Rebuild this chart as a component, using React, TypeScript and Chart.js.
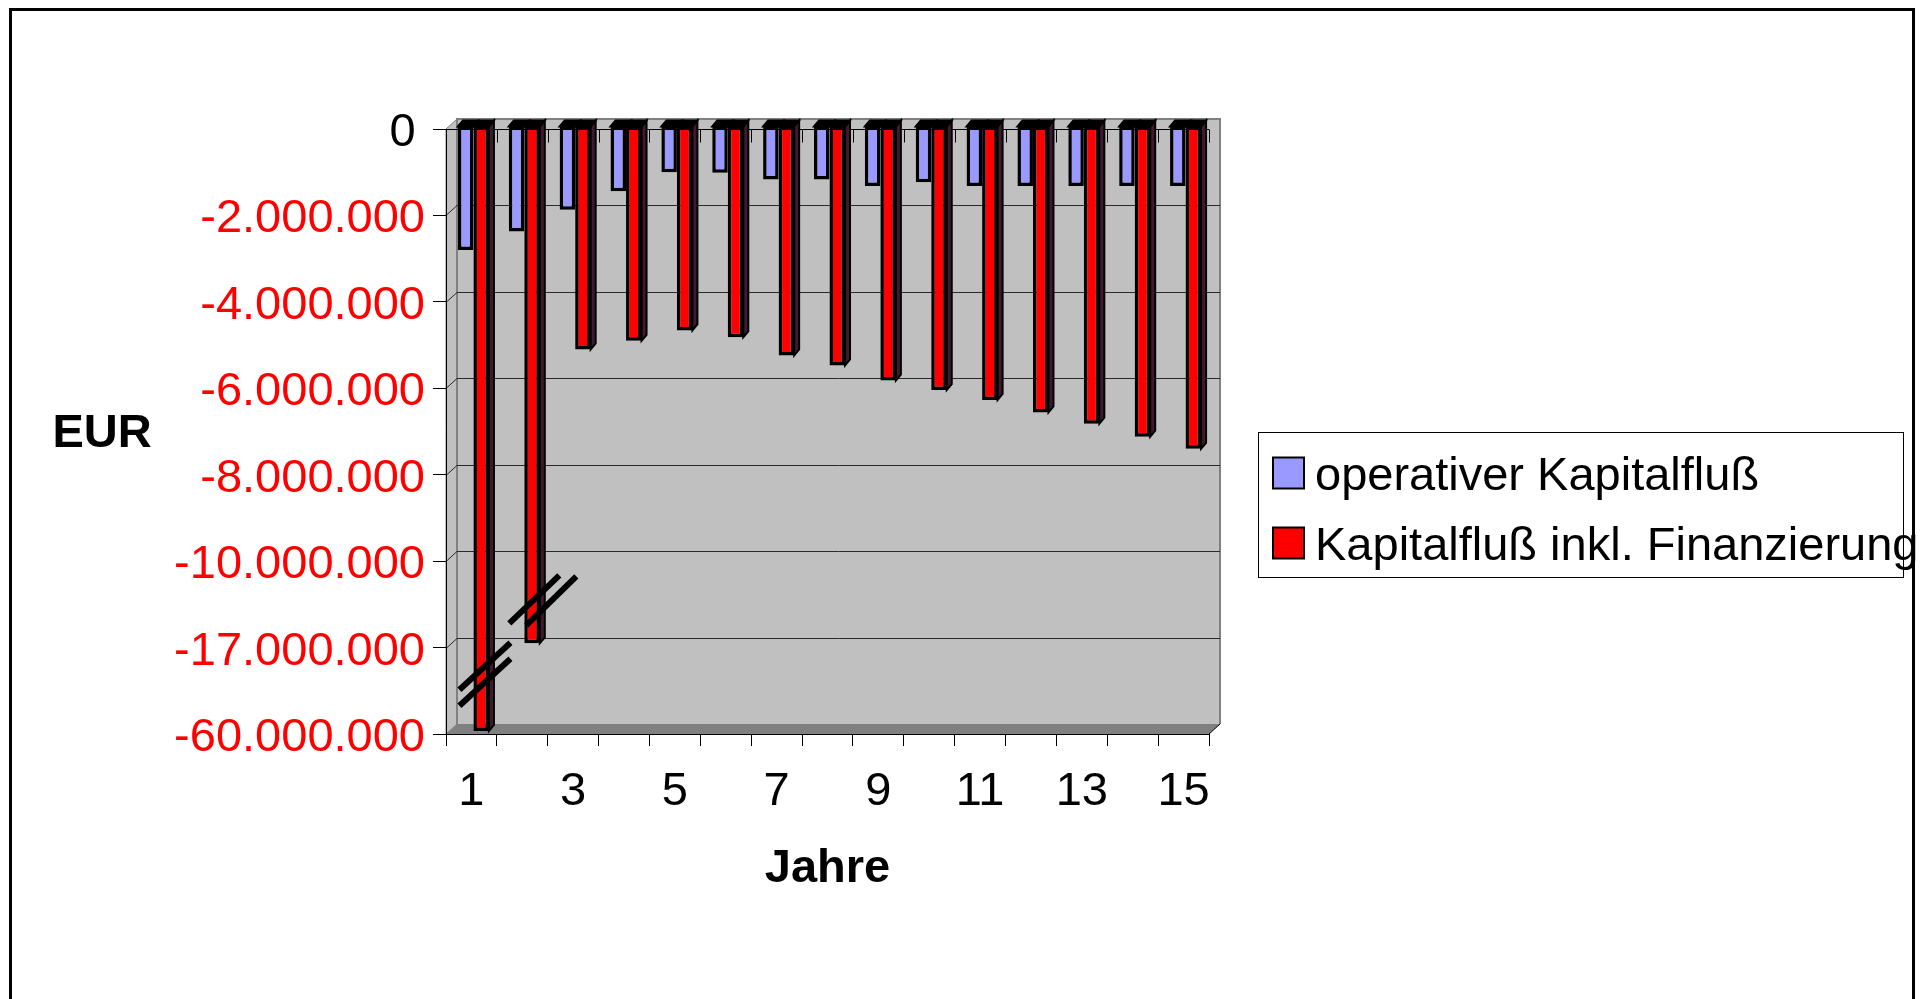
import React, { useEffect, useRef } from "react";
import { Chart, registerables } from "chart.js";

Chart.register(...registerables);

const FONT = '"Liberation Sans", Arial, Helvetica, sans-serif';
const FS = 47;

// ---------- data ----------
const years = ["1", "2", "3", "4", "5", "6", "7", "8", "9", "10", "11", "12", "13", "14", "15"];
const operativerKapitalfluss = [
  -2870000, -2440000, -1940000, -1510000, -1070000, -1080000, -1240000, -1240000,
  -1390000, -1300000, -1390000, -1390000, -1390000, -1390000, -1390000,
];
const kapitalflussInklFinanzierung = [
  -60000000, -16900000, -5170000, -4970000, -4730000, -4890000, -5310000, -5540000,
  -5890000, -6110000, -6340000, -6630000, -6890000, -7190000, -7470000,
];
// broken value axis: equally spaced ticks
const yTickValues = [0, -2000000, -4000000, -6000000, -8000000, -10000000, -17000000, -60000000];
const yTickLabels = ["0", "-2.000.000", "-4.000.000", "-6.000.000", "-8.000.000", "-10.000.000", "-17.000.000", "-60.000.000"];
const seriesNames = ["operativer Kapitalfluß", "Kapitalfluß inkl. Finanzierung"];
const seriesColors = ["#9999ff", "#ff0000"];
const xTitle = "Jahre";
const yTitle = "EUR";

// map EUR value onto the broken axis (one unit per tick interval)
function toAxisUnits(v: number): number {
  for (let i = 0; i < yTickValues.length - 1; i++) {
    const hi = yTickValues[i];
    const lo = yTickValues[i + 1];
    if (v >= lo) return -(i + (hi - v) / (hi - lo));
  }
  return -(yTickValues.length - 1);
}

// ---------- 3D look ----------
const DX = 11;
const DY = -10;
const BAR_SX = 2;
const BAR_SY = -3;
const BDX = 5;
const BDY = -6;

function poly(ctx: CanvasRenderingContext2D, pts: number[][], fill?: string | null, stroke?: string | null, lw = 1) {
  ctx.beginPath();
  ctx.moveTo(pts[0][0], pts[0][1]);
  for (let i = 1; i < pts.length; i++) ctx.lineTo(pts[i][0], pts[i][1]);
  ctx.closePath();
  if (fill) {
    ctx.fillStyle = fill;
    ctx.fill();
  }
  if (stroke) {
    ctx.strokeStyle = stroke;
    ctx.lineWidth = lw;
    ctx.stroke();
  }
}

const breakMarks = [
  { cat: 0, unit: -6.5, lines: [[-12, -1, 39, -48], [-12, 15, 39, -32]] },
  { cat: 1, unit: -5.5, lines: [[-13, 19, 37, -29], [4, 21, 54, -28]] },
];

const excel3d = {
  id: "excel3d",
  beforeDraw(chart: any) {
    const ctx: CanvasRenderingContext2D = chart.ctx;
    const { left, right, top, bottom } = chart.chartArea;
    const ys = chart.scales.y;
    ctx.save();
    // outer frame
    ctx.strokeStyle = "#000";
    ctx.lineWidth = 3;
    ctx.beginPath();
    ctx.moveTo(10.5, chart.height + 5);
    ctx.lineTo(10.5, 9.5);
    ctx.lineTo(1913.5, 9.5);
    ctx.lineTo(1913.5, chart.height + 5);
    ctx.stroke();
    // back wall
    ctx.fillStyle = "#c0c0c0";
    ctx.fillRect(left + DX, top + DY, right - left, bottom - top);
    // side wall
    poly(ctx, [[left, top], [left + DX, top + DY], [left + DX, bottom + DY], [left, bottom]], "#c0c0c0", "#808080", 1);
    // floor
    poly(ctx, [[left, bottom], [left + DX, bottom + DY], [right + DX, bottom + DY], [right, bottom]], "#808080", null);
    // wall edges
    ctx.strokeStyle = "#808080";
    ctx.lineWidth = 2;
    ctx.beginPath();
    ctx.moveTo(left + DX, bottom + DY);
    ctx.lineTo(left + DX, top + DY);
    ctx.lineTo(right + DX, top + DY);
    ctx.lineTo(right + DX, bottom + DY);
    ctx.stroke();
    // gridlines on side + back wall
    ctx.strokeStyle = "#2a2a2a";
    ctx.lineWidth = 1;
    ys.ticks.forEach((t: any) => {
      if (t.value === 0 || t.value <= ys.min) return;
      const p = Math.round(ys.getPixelForValue(t.value)) + 0.5;
      ctx.beginPath();
      ctx.moveTo(left, p);
      ctx.lineTo(left + DX, p + DY);
      ctx.lineTo(right + DX, p + DY);
      ctx.stroke();
    });
    // floor right edge
    ctx.strokeStyle = "#000";
    ctx.beginPath();
    ctx.moveTo(right, bottom);
    ctx.lineTo(right + DX, bottom + DY);
    ctx.stroke();
    ctx.restore();
  },
  beforeDatasetsDraw(chart: any) {
    const ctx: CanvasRenderingContext2D = chart.ctx;
    const { left, right } = chart.chartArea;
    const xs = chart.scales.x;
    const ys = chart.scales.y;
    const y0 = Math.round(ys.getPixelForValue(0)) + 0.5;
    ctx.save();
    ctx.strokeStyle = "#000";
    ctx.lineWidth = 1;
    ctx.beginPath();
    ctx.moveTo(left, y0);
    ctx.lineTo(right, y0);
    ctx.stroke();
    const cw = xs.getPixelForValue(1) - xs.getPixelForValue(0);
    for (let i = 0; i <= years.length; i++) {
      const bx = Math.round(xs.getPixelForValue(i) - cw / 2) + 0.5;
      ctx.beginPath();
      ctx.moveTo(bx, y0);
      ctx.lineTo(bx, y0 + 13);
      ctx.stroke();
    }
    ctx.restore();
  },
  beforeDatasetDraw(chart: any) {
    chart.ctx.save();
    chart.ctx.translate(BAR_SX, BAR_SY);
  },
  afterDatasetDraw(chart: any) {
    chart.ctx.restore();
  },
  afterDatasetsDraw(chart: any) {
    const ctx: CanvasRenderingContext2D = chart.ctx;
    const xs = chart.scales.x;
    const ys = chart.scales.y;
    ctx.save();
    ctx.translate(BAR_SX, BAR_SY);
    chart.data.datasets.forEach((ds: any, di: number) => {
      const meta = chart.getDatasetMeta(di);
      meta.data.forEach((el: any) => {
        const l = el.x - el.width / 2;
        const r = el.x + el.width / 2;
        const t = Math.min(el.y, el.base);
        const b = Math.max(el.y, el.base);
        if (di === chart.data.datasets.length - 1) {
          poly(ctx, [[r, t], [r + BDX, t + BDY], [r + BDX, b + BDY], [r, b]], "#3f1a2e", "#000", 2);
        }
        poly(ctx, [[l, t], [l + BDX, t + BDY], [r + BDX, t + BDY], [r, t]], "#000", "#000", 2);
      });
    });
    ctx.restore();

    // axis break marks
    ctx.save();
    ctx.strokeStyle = "#000";
    ctx.lineWidth = 6;
    ctx.lineCap = "butt";
    breakMarks.forEach((bm) => {
      const cx = xs.getPixelForValue(bm.cat);
      const cy = ys.getPixelForValue(bm.unit);
      bm.lines.forEach((ln) => {
        ctx.beginPath();
        ctx.moveTo(cx + ln[0], cy + ln[1]);
        ctx.lineTo(cx + ln[2], cy + ln[3]);
        ctx.stroke();
      });
    });
    ctx.restore();

    // value axis title (horizontal)
    ctx.save();
    ctx.fillStyle = "#000";
    ctx.font = `bold ${FS}px ${FONT}`;
    ctx.textAlign = "center";
    ctx.textBaseline = "middle";
    ctx.fillText(yTitle, 102, 434);
    ctx.restore();

    // legend
    ctx.save();
    ctx.strokeStyle = "#000";
    ctx.lineWidth = 1;
    ctx.strokeRect(1258.5, 432.5, 645, 145);
    ctx.font = `${FS}px ${FONT}`;
    ctx.textAlign = "left";
    ctx.textBaseline = "middle";
    chart.data.datasets.forEach((ds: any, i: number) => {
      const cy = 473 + i * 70;
      ctx.fillStyle = ds.backgroundColor;
      ctx.fillRect(1273, cy - 15.5, 31, 31);
      ctx.lineWidth = 2;
      ctx.strokeStyle = "#000";
      ctx.strokeRect(1273, cy - 15.5, 31, 31);
      ctx.fillStyle = "#000";
      ctx.fillText(ds.label, 1315, cy + 4);
    });
    ctx.restore();
  },
};

export default function App() {
  const ref = useRef<HTMLCanvasElement | null>(null);

  useEffect(() => {
    if (!ref.current) return;
    Chart.defaults.font.family = FONT;
    const chart = new Chart(ref.current, {
      type: "bar",
      data: {
        labels: years,
        datasets: [
          {
            label: seriesNames[0],
            data: operativerKapitalfluss.map(toAxisUnits),
            backgroundColor: seriesColors[0],
            borderColor: "#000",
            borderWidth: 3.5,
            borderSkipped: false,
            categoryPercentage: 0.61,
            barPercentage: 1,
          },
          {
            label: seriesNames[1],
            data: kapitalflussInklFinanzierung.map(toAxisUnits),
            backgroundColor: seriesColors[1],
            borderColor: "#000",
            borderWidth: 3.5,
            borderSkipped: false,
            categoryPercentage: 0.61,
            barPercentage: 1,
          },
        ],
      },
      options: {
        responsive: false,
        animation: false,
        devicePixelRatio: 1,
        layout: { padding: { left: 0, top: 129, right: 716, bottom: 101 } },
        plugins: {
          legend: { display: false },
          tooltip: { enabled: false },
          title: { display: false },
        },
        scales: {
          x: {
            grid: { drawOnChartArea: false, drawTicks: true, tickLength: 12, color: "#000", offset: true },
            border: { color: "#000", width: 1 },
            ticks: {
              font: { family: FONT, size: FS },
              color: "#000",
              padding: 18,
              autoSkip: false,
              maxRotation: 0,
              minRotation: 0,
              callback: (_v: any, i: number) => (i % 2 === 0 ? years[i] : ""),
            },
            title: {
              display: true,
              text: xTitle,
              color: "#000",
              font: { family: FONT, size: FS, weight: "bold", lineHeight: 1.2 },
              padding: { top: 0, bottom: 1 },
            },
            afterFit: (s: any) => {
              s.height = 164;
            },
          },
          y: {
            min: -(yTickValues.length - 1),
            max: 0,
            grid: { drawOnChartArea: false, drawTicks: true, tickLength: 13, color: "#000" },
            border: { color: "#000", width: 1 },
            ticks: {
              stepSize: 1,
              autoSkip: false,
              padding: 8,
              labelOffset: 4,
              font: { family: FONT, size: FS },
              color: (c: any) => (Math.round(-c.tick.value) === 0 ? "#000" : "#ff0000"),
              callback: (v: any) => {
                const i = Math.round(-Number(v));
                return i === 0 ? yTickLabels[i] + "\u2009" : yTickLabels[i];
              },
            },
            afterFit: (s: any) => {
              s.width = 446;
            },
          },
        },
      } as any,
      plugins: [excel3d as any],
    });
    return () => chart.destroy();
  }, []);

  return (
    <div style={{ position: "fixed", left: 0, top: 0, width: 1925, height: 999, background: "#fff" }}>
      <canvas ref={ref} width={1925} height={999} style={{ display: "block" }} />
    </div>
  );
}
